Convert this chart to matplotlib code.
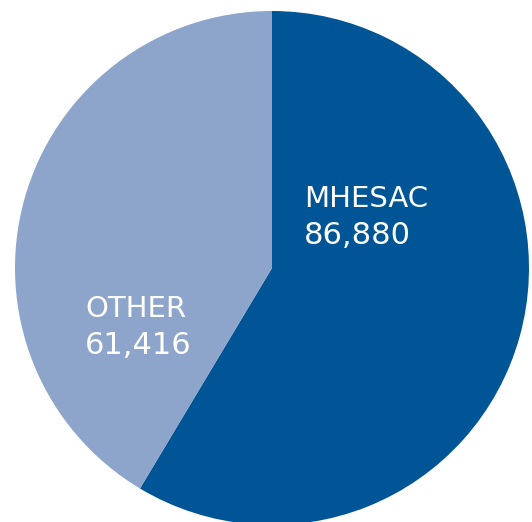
import matplotlib.pyplot as plt
import numpy as np

labels = ["MHESAC", "OTHER"]
values = [86880, 61416]
colors = ["#005596", "#8DA5CA"]

fig = plt.figure(figsize=(5.32, 5.22), dpi=100)
ax = fig.add_axes([0, 0, 1, 1])

# pie in pixel-ish coords so it fills the frame like the original
ax.pie(values, colors=colors, startangle=90, counterclock=False,
       center=(272, 522 - 268), radius=257, frame=True,
       wedgeprops=dict(linewidth=0))
ax.set_xlim(0, 532)
ax.set_ylim(0, 522)
ax.set_aspect("equal")
ax.axis("off")

# labels: name on top, value below
label_pos = [(304, 522 - 207), (85, 522 - 317)]
for name, val, (x, y) in zip(labels, values, label_pos):
    ax.text(x, y, name, color="white", fontsize=21, family="DejaVu Sans",
            ha="left", va="baseline")
    ax.text(x, y - 37, f"{val:,}", color="white", fontsize=22,
            family="DejaVu Sans", ha="left", va="baseline")

fig.savefig("out.png", dpi=100)
